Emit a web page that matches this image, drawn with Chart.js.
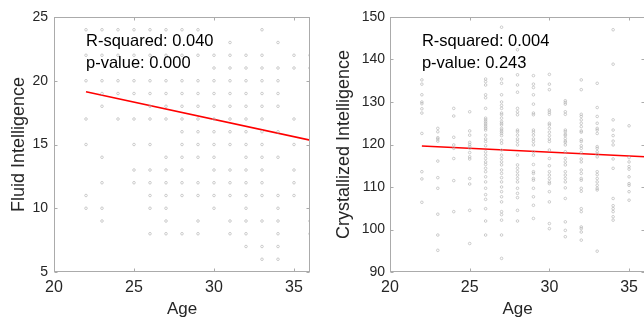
<!DOCTYPE html>
<html>
<head>
<meta charset="utf-8">
<script src="https://cdn.jsdelivr.net/npm/chart.js@4/dist/chart.umd.min.js"></script>
<style>
  html, body { margin: 0; padding: 0; background: #fff; overflow: hidden; }
  #wrap { position: relative; width: 644px; height: 318px; overflow: hidden; }
  #fluidChart { position: absolute; left: 0; top: 0; }
  #crystChart { position: absolute; left: 322px; top: 0; }
</style>
</head>
<body>
<div id="wrap">
  <canvas id="fluidChart" width="322" height="318"></canvas>
  <canvas id="crystChart" width="340" height="318"></canvas>
</div>
<script>
// ages on the x axis (one column of points per age)
const ages = [22, 23, 24, 25, 26, 27, 28, 29, 30, 31, 32, 33, 34, 35, 36];

// fluid intelligence scores, one list per age
const fluidScores = [
  [24, 22, 20, 17, 15, 11, 10],
  [24, 22, 20, 19, 18, 14, 12, 10, 9],
  [24, 22, 20, 19, 17],
  [24, 22, 20, 19, 17, 15, 13, 12],
  [24, 22, 20, 19, 18, 17, 15, 13, 12, 11, 10, 8],
  [24, 22, 20, 19, 18, 17, 14, 13, 12, 11, 10, 9, 8],
  [24, 22, 20, 19, 18, 17, 16, 15, 14, 13, 12, 11, 8],
  [24, 22, 20, 19, 18, 17, 16, 15, 14, 12, 11, 9, 8],
  [22, 21, 20, 19, 18, 17, 16, 15, 14, 13, 12, 11, 10],
  [23, 22, 21, 20, 19, 18, 17, 16, 15, 13, 12, 11, 9, 8],
  [22, 21, 20, 19, 18, 17, 16, 15, 14, 13, 12, 11, 10, 9, 8, 7],
  [24, 22, 21, 20, 19, 18, 17, 16, 15, 14, 13, 12, 11, 9, 7, 6],
  [23, 21, 20, 19, 18, 16, 14, 11, 10, 9, 8, 7, 6],
  [22, 21, 17, 15, 13, 12, 11],
  [22, 21, 9, 8]
];

// crystallized intelligence scores, one list per age
const crystScores = [
  [135.2, 134.2, 131.7, 130.0, 129.6, 128.4, 127.4, 122.6, 113.6, 111.9, 106.4],
  [123.8, 123.0, 121.6, 121.3, 120.8, 116.1, 112.2, 109.7, 103.6, 98.7, 95.1],
  [128.5, 126.7, 121.7, 119.9, 119.1, 116.7, 111.5, 104.2],
  [127.7, 123.2, 122.2, 120.5, 120.0, 119.5, 119.1, 118.1, 117.1, 116.6, 112.0, 110.7, 104.5, 96.7],
  [135.4, 134.8, 134.0, 131.7, 131.0, 128.5, 126.2, 125.8, 125.4, 125.0, 124.6, 124.2, 123.8, 123.4, 122.2, 121.3, 120.7,
   119.7, 118.3, 117.5, 116.7, 115.9, 115.3, 114.4, 113.6, 112.4, 111.2, 109.7, 108.2, 107.1, 104.9, 102.0, 98.7],
  [147.6, 135.4, 134.4, 131.7, 130.0, 129.2, 128.5, 127.4, 127.0, 126.2, 125.4, 125.0, 124.6, 123.8, 123.4, 123.0, 122.6,
   122.1, 121.0, 120.3, 118.7, 117.5, 116.7, 115.9, 115.2, 114.0, 113.2, 112.2, 111.2, 110.0, 108.9, 107.7, 106.5, 104.2,
   103.5, 102.2, 98.7, 93.2],
  [142.3, 136.4, 134.0, 132.3, 128.5, 127.7, 127.0, 123.4, 123.0, 122.2, 121.3, 120.7, 119.9, 117.5, 115.2, 114.4, 113.6,
   112.8, 112.0, 111.2, 109.7, 108.5, 107.5, 104.5, 102.0],
  [136.2, 134.2, 133.4, 131.7, 129.5, 127.4, 127.0, 123.4, 122.9, 122.2, 121.3, 120.7, 119.9, 118.3, 117.5, 115.3, 113.6,
   113.2, 112.0, 111.6, 109.7, 107.7, 105.7, 102.6],
  [136.5, 134.2, 132.9, 128.1, 127.6, 127.1, 125.0, 124.6, 123.8, 122.9, 122.1, 121.3, 120.7, 118.7, 116.7, 115.0, 113.6,
   112.8, 112.0, 111.2, 110.8, 108.9, 106.5, 101.4, 100.2],
  [130.3, 129.9, 129.5, 127.7, 127.1, 123.4, 123.0, 122.4, 122.1, 121.4, 120.8, 120.5, 119.9, 118.3, 116.7, 115.9, 115.2,
   113.6, 112.8, 112.0, 111.2, 109.8, 107.3, 101.8, 99.8, 98.3],
  [135.2, 132.9, 127.1, 126.6, 125.8, 125.0, 124.2, 123.2, 122.9, 121.1, 120.7, 119.7, 119.1, 118.1, 116.6, 115.9, 114.0,
   113.2, 112.0, 111.6, 109.7, 109.0, 104.9, 104.2, 100.6, 100.2, 99.4, 97.5],
  [134.4, 128.7, 126.6, 125.0, 123.8, 123.4, 122.6, 119.5, 119.1, 118.3, 117.7, 117.1, 113.6, 112.9, 112.0, 111.2, 110.4,
   109.7, 109.3, 94.9],
  [147.0, 138.9, 125.8, 123.4, 122.1, 120.8, 119.9, 116.6, 114.4, 107.3, 105.6, 104.9, 104.2, 103.0, 102.2],
  [124.4, 116.9, 115.9, 114.8, 114.2, 112.4, 110.8, 110.4, 108.9, 106.9],
  []
];

// fitted regression lines (end points at youngest and oldest age)
const fitAges = [22, 36];
const fluidFit = [19.14, 15.34];
const crystFit = [119.65, 117.1];

// statistics printed in the corner
const fluidStats = ['R-squared: 0.040', 'p-value: 0.000'];
const crystStats = ['R-squared: 0.004', 'p-value: 0.243'];

const fontFamily = '"Liberation Sans", Arial, Helvetica, sans-serif';
const axisColor = '#ababab';
const textColor = '#262626';

const toPoints = (scores) => {
  const pts = [];
  scores.forEach((list, i) => list.forEach(v => pts.push({x: ages[i], y: v})));
  return pts;
};

// draws the closed box, inward ticks and the text lines
const boxPlugin = {
  id: 'box',
  afterDatasetsDraw(chart, args, opts) {
    const {ctx, chartArea: a, scales: {x, y}} = chart;
    const L = Math.round(a.left) + 0.5, R = Math.round(a.right) - 0.5;
    const T = Math.round(a.top) + 0.5, B = Math.round(a.bottom) - 0.5;
    ctx.save();
    ctx.strokeStyle = axisColor;
    ctx.lineWidth = 1;
    ctx.strokeRect(L, T, R - L, B - T);
    const tl = 3;
    ctx.beginPath();
    x.ticks.forEach(t => {
      const px = Math.round(x.getPixelForValue(t.value)) + 0.5;
      ctx.moveTo(px, B); ctx.lineTo(px, B - tl);
      ctx.moveTo(px, T); ctx.lineTo(px, T + tl);
    });
    y.ticks.forEach(t => {
      const py = Math.round(y.getPixelForValue(t.value)) + 0.5;
      ctx.moveTo(L, py); ctx.lineTo(L + tl, py);
      ctx.moveTo(R, py); ctx.lineTo(R - tl, py);
    });
    ctx.stroke();
    ctx.fillStyle = '#000';
    ctx.font = '16.5px ' + fontFamily;
    ctx.textBaseline = 'alphabetic';
    const tx = x.getPixelForValue(22);
    opts.lines.forEach((s, i) => ctx.fillText(s, tx, a.top + 29 + i * 22.3));
    ctx.restore();
  }
};

const makeChart = (id, scores, fit, yMin, yMax, yStep, yTitle, stats, yWidth, padRight, titlePad, tickPad) => {
  return new Chart(id, {
    type: 'scatter',
    data: {
      datasets: [{
        data: toPoints(scores),
        pointRadius: 1.3,
        pointBorderWidth: 0.6,
        pointBorderColor: '#adadad',
        pointBackgroundColor: 'rgba(0,0,0,0)'
      }, {
        data: fitAges.map((a, i) => ({x: a, y: fit[i]})),
        showLine: true,
        borderColor: '#ff0000',
        borderWidth: 1.6,
        pointRadius: 0
      }]
    },
    options: {
      responsive: false,
      animation: false,
      layout: { autoPadding: false, padding: {top: 17, right: padRight, bottom: 0, left: 0} },
      plugins: { legend: {display: false}, tooltip: {enabled: false}, box: {lines: stats} },
      scales: {
        x: {
          type: 'linear', min: 20, max: 36,
          afterFit: s => { s.height = 46; },
          grid: {display: false, drawTicks: false},
          border: {display: false},
          ticks: {stepSize: 5, includeBounds: false, padding: 6, color: textColor,
                  font: {size: 16, family: fontFamily}},
          title: {display: true, text: 'Age', color: textColor, padding: {top: 0, bottom: -2},
                  font: {size: 17, family: fontFamily}}
        },
        y: {
          type: 'linear', min: yMin, max: yMax,
          afterFit: s => { s.width = yWidth; },
          grid: {display: false, drawTicks: false},
          border: {display: false},
          ticks: {stepSize: yStep, padding: tickPad, color: textColor,
                  font: {size: 14, family: fontFamily}},
          title: {display: true, text: yTitle, color: textColor, padding: {top: titlePad, bottom: 0},
                  font: {size: 18, family: fontFamily}}
        }
      }
    },
    plugins: [boxPlugin]
  });
};

makeChart('fluidChart', fluidScores, fluidFit, 5, 25, 5, 'Fluid Intelligence', fluidStats, 54, 12, 8, 6);
makeChart('crystChart', crystScores, crystFit, 90, 150, 10, 'Crystallized Intelligence', crystStats, 68, 17, 11, 5);
</script>
</body>
</html>
